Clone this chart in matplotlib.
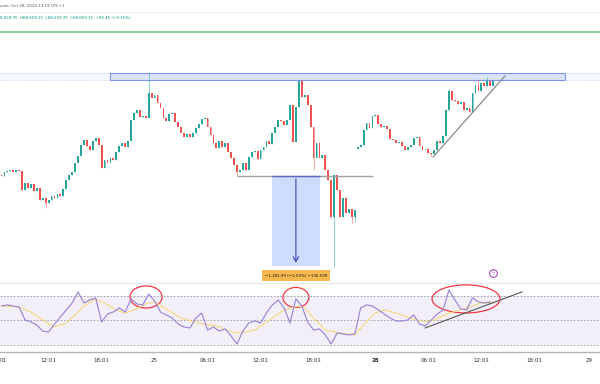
import numpy as np
import matplotlib.pyplot as plt
from matplotlib.patches import Rectangle, Ellipse
from matplotlib.lines import Line2D

# ---- price data (20 min bars) ----
closes = [67285, 67346, 67361, 67376, 67346, 67376, 67361, 67072, 67178, 67102,
          67163, 67057, 67102, 66920, 66950, 66874, 66920, 66981, 66950, 67011,
          66981, 67087, 67224, 67300, 67346, 67482, 67589, 67756, 67832, 67741,
          67680, 67817, 67862, 67756, 67406, 67528, 67482, 67558, 67528, 67650,
          67741, 67786, 67726, 67817, 68136, 68242, 68288, 68182, 68197, 68166,
          68546, 68470, 68516, 68394, 68318, 68166, 68121, 68227, 68242, 68106,
          68030, 67938, 67878, 67923, 67878, 67938, 68014, 68075, 68151, 68166,
          68030, 67908, 67786, 67710, 67817, 67726, 67786, 67650, 67558, 67452,
          67346, 67376, 67482, 67376, 67574, 67650, 67665, 67543, 67680, 67726,
          67817, 67771, 67938, 68030, 68136, 68121, 68060, 68136, 68364, 67802,
          68334, 68744, 68486, 68516, 68364, 68030, 67558, 67786, 67558, 67604,
          67376, 67224, 66662, 67300, 67072, 66662, 66950, 66722, 66783, 66662,
          66768,
          67726, 67756, 67984, 68090, 68014, 68197, 68212, 68075, 68030, 68045,
          67999, 67847, 67832, 67786, 67802, 67741, 67680, 67726, 67756, 67862,
          67878, 67741, 67680, 67695, 67634, 67619, 67680, 67817, 67786, 67893,
          68288, 68577, 68440, 68425, 68379, 68410, 68288, 68318, 68258, 68546,
          68668, 68577, 68698, 68653, 68744, 68653, 68744]
first_open = 67300
weekend_bar = 121
weekend_open = 67695
wick_hi = {50: 68850, 152: 68608, 162: 68760, 165: 68790}
wick_lo = {15: 66798, 80: 67285, 106: 67376, 113: 65902, 119: 66570,
           120: 66585, 146: 67589}

# ---- RSI (every second bar) and its moving average ----
rsi = [61.8, 62.7, 61.8, 61.0, 50.4, 48.8, 46.3, 41.4, 40.6, 47.1,
       52.9, 58.6, 64.3, 73.3, 64.3, 66.7, 68.4, 48.8, 55.3, 56.9,
       60.2, 56.9, 67.6, 63.5, 62.7, 71.6, 65.9, 56.9, 54.5, 52.0,
       47.1, 44.7, 43.9, 52.0, 56.1, 42.2, 44.7, 41.4, 43.1, 37.3,
       30.8, 41.4, 48.0, 49.6, 48.0, 56.1, 62.7, 66.7, 60.2, 48.0,
       67.6, 61.8, 48.8, 42.2, 43.1, 38.2, 30.8, 39.8, 39.0, 38.2,
       39.0, 60.2, 62.7, 61.8, 58.6, 55.3, 52.0, 49.6, 49.6, 50.4,
       54.5, 47.1, 45.5, 50.4, 55.3, 58.6, 74.9, 66.7, 59.4, 58.6,
       68.4, 65.1, 64.3, 65.1]
ma_bars = [0, 6, 10, 15, 18, 22, 25, 28, 32, 35, 39, 42, 45, 49, 52, 56, 61,
           67, 73, 78, 81, 86, 91, 96, 101, 103, 106, 110, 115, 120, 123, 127,
           130, 134, 139, 144, 147, 152, 156, 159, 163, 167]
ma_vals = [61.8, 61.0, 56.9, 48.8, 44.7, 48.0, 54.5, 61.8, 67.6, 64.3, 58.6,
           56.1, 58.6, 63.5, 65.1, 59.4, 52.0, 48.0, 45.5, 40.6, 39.8, 42.2,
           50.4, 58.6, 61.8, 60.2, 52.0, 42.2, 39.8, 38.2, 46.3, 56.1, 58.6,
           56.1, 52.0, 48.8, 50.4, 56.1, 58.6, 61.0, 64.3, 64.3]

tick_bars = [0.7, 16, 34, 52, 70, 88, 106, 127, 145, 163, 181, 199.5]
tick_labels = ['01', '12:01', '18:01', '25', '06:01', '12:01', '18:01',
               '28', '06:01', '12:01', '18:01', '29']

up_c, dn_c = '#26a69a', '#ef5350'

x = np.arange(len(closes))
c = np.array(closes, dtype=float)
o = np.concatenate([[first_open], c[:-1]])
o[weekend_bar] = weekend_open
hi = np.maximum(o, c)
lo = np.minimum(o, c)
for k, v in wick_hi.items():
    hi[k] = v
for k, v in wick_lo.items():
    lo[k] = v
cols = [up_c if cc >= oo else dn_c for oo, cc in zip(o, c)]

fig = plt.figure(figsize=(6, 3.84), dpi=100)
H = 384.0
ax = fig.add_axes([0, (H - 282) / H, 1, (282 - 35) / H])
ax2 = fig.add_axes([0, (H - 352) / H, 1, (352 - 282) / H])
xl = (-0.51, 203.3)

# candles
ax.vlines(x, lo, hi, colors=cols, lw=0.6, alpha=0.6)
ax.bar(x, np.where(np.abs(c - o) < 8, 8, c - o), bottom=o, width=0.62,
       color=cols, linewidth=0)

# resistance zone
ax.add_patch(Rectangle((37, 68744), 191.4 - 37, 68850 - 68744,
                       fc='#2962ff', alpha=0.17, ec='none'))
ax.add_patch(Rectangle((37, 68744), 191.4 - 37, 68850 - 68744,
                       fc='none', ec='#7b93ee', lw=0.8))
for xa, xb in [(xl[0], 37), (191.4, xl[1])]:
    ax.add_patch(Rectangle((xa, 68744), xb - xa, 106, fc='#2962ff',
                           alpha=0.04, ec='none'))
    ax.hlines([68744, 68850], xa, xb, colors='#c8d2f5', lw=0.6,
              linestyles=(0, (1, 1)))

# breakdown level and measure
ax.hlines(67285, 80, 126.2, colors='#a0a0a0', lw=1.0)
ax.add_patch(Rectangle((91.9, 65917), 108.2 - 91.9, 67285 - 65917,
                       fc='#2962ff', alpha=0.22, ec='none'))
ax.hlines(67285, 91.9, 108.2, colors='#5c6bc0', lw=1.0)
ax.annotate('', xy=(100, 65925), xytext=(100, 67285),
            arrowprops=dict(arrowstyle='->,head_length=0.35,head_width=0.2',
                            color='#3949ab', lw=0.8))
ax.text(100, 65772, '\u22121,365.99 (\u22122.03%) \u2212136,599',
        ha='center', va='center', fontsize=2.9, color='#131722',
        bbox=dict(boxstyle='square,pad=0.8', fc='#f7b84e', ec='none'))

# rising trend line
ax.plot([146.6, 171], [67574, 68805], color='#8a8a8a', lw=0.9)

# lightning icon
ax.plot(167, 65810, 'o', mfc='white', mec='#ab47bc', ms=5.5, mew=0.8)
ax.text(167, 65810, '\u03df', ha='center', va='center', fontsize=3.4,
        color='#ab47bc')

ax.set_xlim(*xl)
ax.set_ylim(65674, 69428)
ax.axis('off')

# ---- RSI panel ----
ax2.axhspan(30, 70, color='#7e57c2', alpha=0.09, lw=0)
ax2.hlines([70, 50, 30], *xl, colors='#9598a1', lw=0.6,
           linestyles=(0, (2, 2)))
ax2.plot(ma_bars, ma_vals, color='#f5d97a', lw=0.8)
ax2.plot(np.arange(0, 2 * len(rsi), 2), rsi, color='#9580d6', lw=0.8)
ax2.plot([143.9, 176.8], [43.9, 73.3], color='#555555', lw=0.8)
for cx, cy, w, h in [(49.1, 69.2, 10.9, 18), (100, 68.8, 8.8, 16.3),
                     (157.8, 67.6, 23.1, 22.9)]:
    ax2.add_patch(Ellipse((cx, cy), w, h, fc='none', ec='#f23645', lw=0.9))
ax2.set_xlim(*xl)
ax2.set_ylim(24.3, 81.4)
for s in ['top', 'left', 'right']:
    ax2.spines[s].set_visible(False)
ax2.spines['bottom'].set_color('#b2b5be')
ax2.spines['bottom'].set_linewidth(1.0)
ax2.set_yticks([])
ax2.set_xticks(tick_bars)
ax2.set_xticklabels(tick_labels, fontsize=4, color='#333333')
ax2.tick_params(axis='x', length=0, pad=4.5)
for lab in ax2.get_xticklabels():
    if lab.get_text() == '28':
        lab.set_fontweight('bold')

# header
fig.text(0, 1 - 6 / H, 'com, Oct 28, 2024 13:19 UTC+1', fontsize=2.9,
         color='#555555', va='center')
fig.text(0, 1 - 18 / H,
         '8,559.70  H68,659.15  L68,559.70  C68,659.15  +99.45 (+0.15%)',
         fontsize=2.9, color='#089981', va='center')
fig.add_artist(Line2D([0, 1], [1 - 11.5 / H] * 2, color='#f0f0f0', lw=0.6))
fig.add_artist(Line2D([0, 1], [1 - 32 / H] * 2, color='#7cc67f', lw=1.2))
fig.add_artist(Line2D([0, 1], [1 - 282.5 / H] * 2, color='#e6e8ee', lw=0.8))

fig.savefig('out.png', dpi=100, facecolor='white')
